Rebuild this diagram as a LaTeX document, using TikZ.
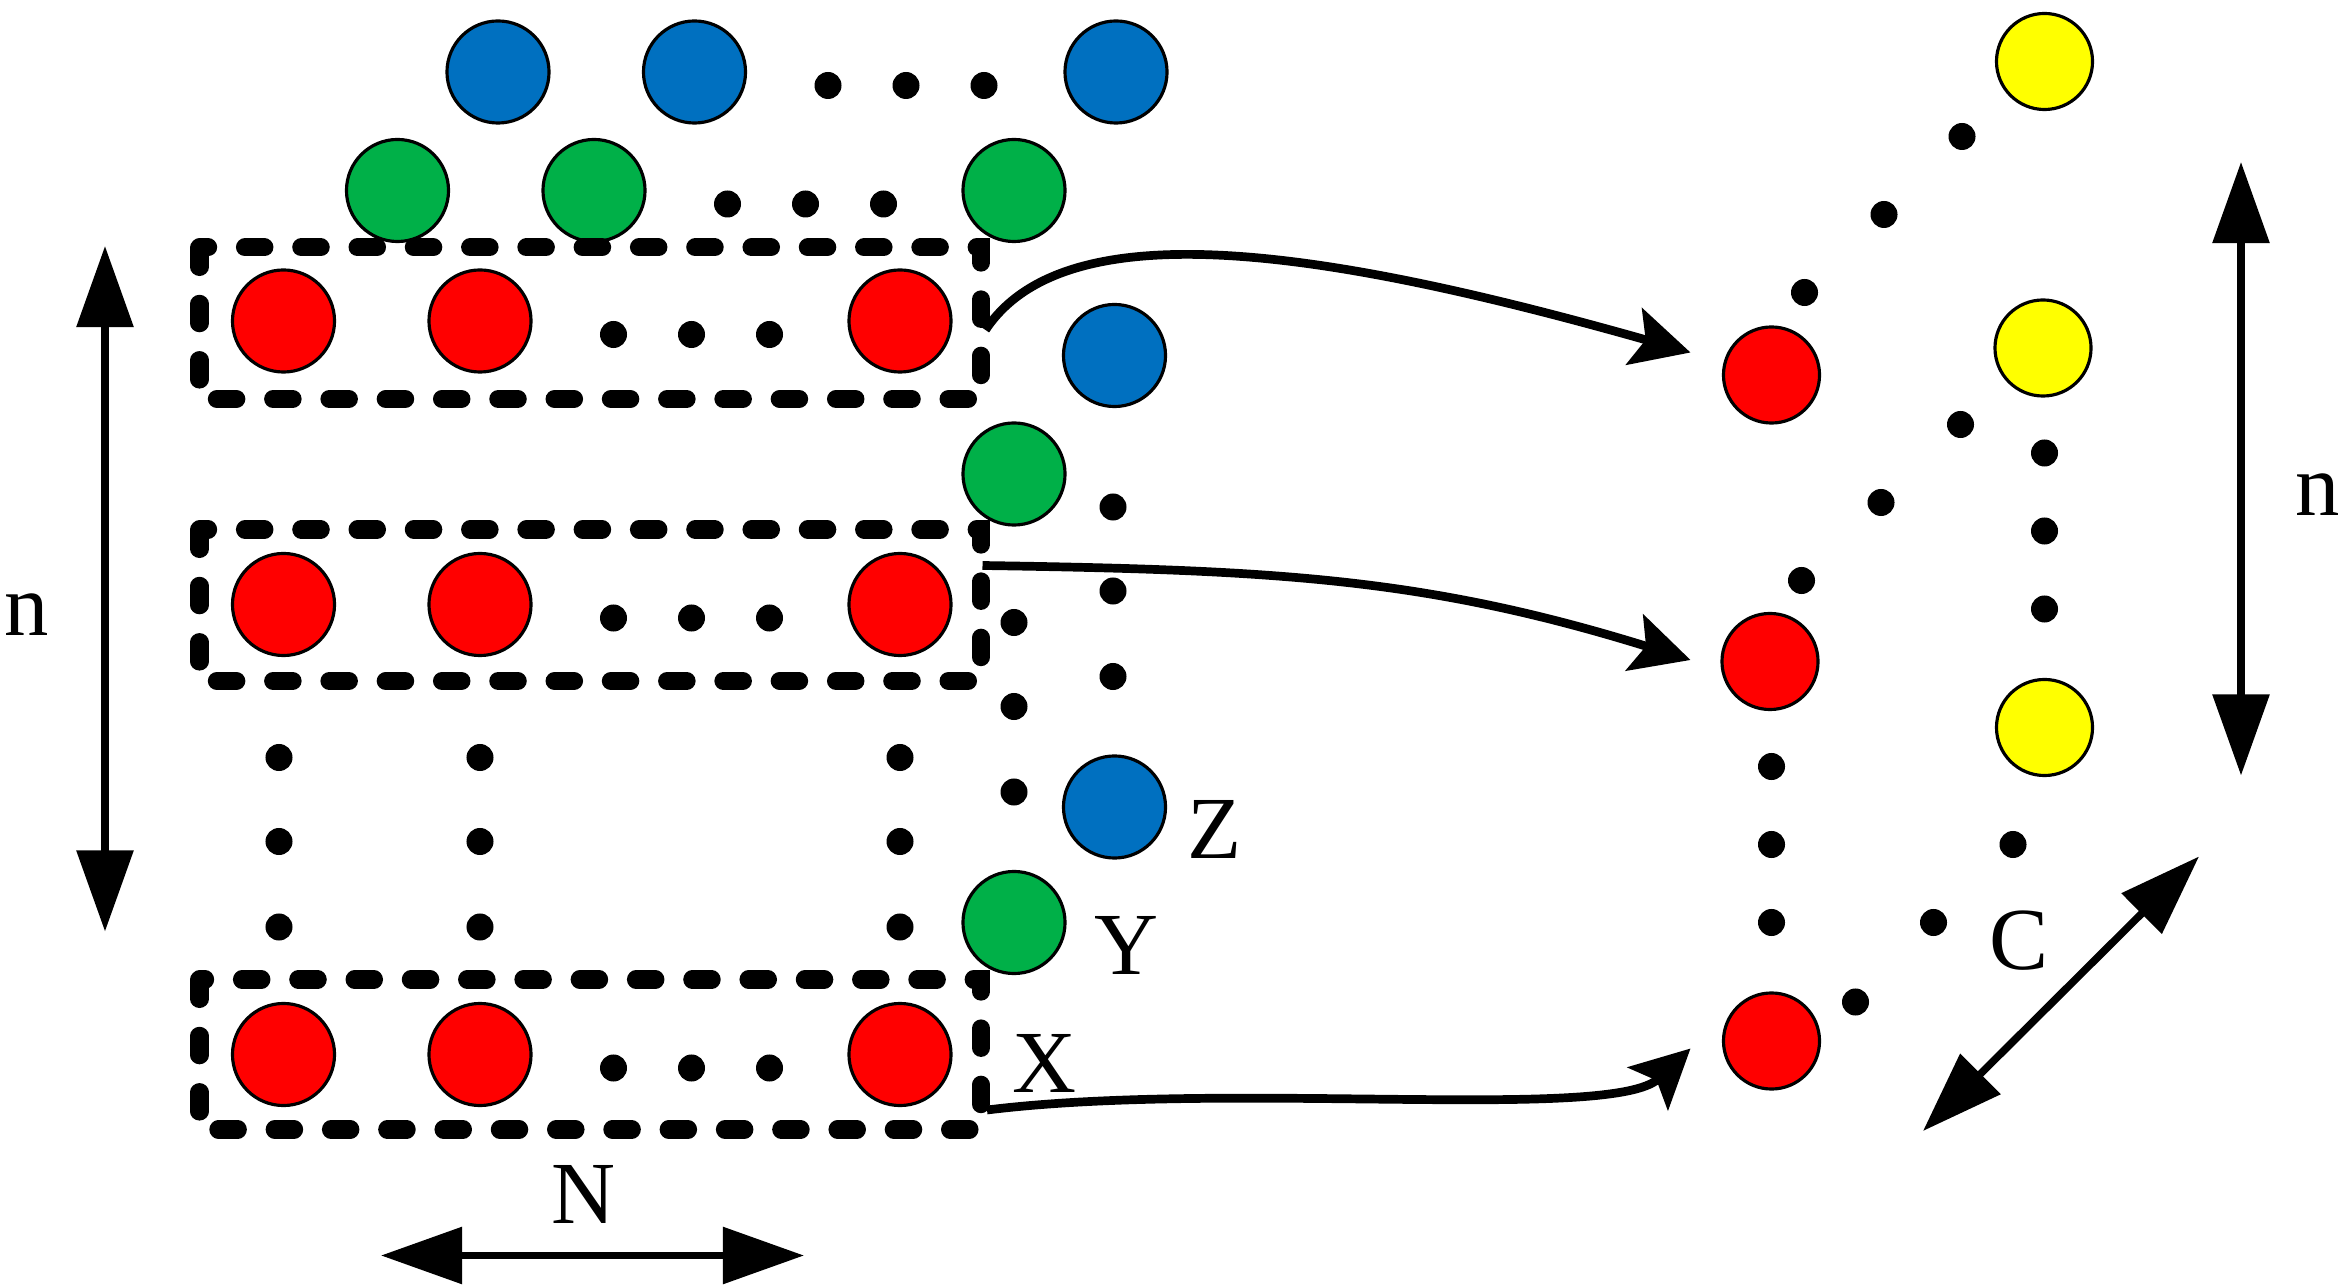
\documentclass[tikz,border=0pt]{standalone}
\usepackage{fontspec}
\setmainfont{Liberation Serif}
\usetikzlibrary{arrows.meta}
\definecolor{cred}{RGB}{255,0,0}
\definecolor{cgreen}{RGB}{0,176,72}
\definecolor{cblue}{RGB}{0,112,192}
\definecolor{cyellow}{RGB}{255,255,0}
\begin{document}
\begin{tikzpicture}[x=0.01cm,y=-0.01cm,
 ball/.style={circle,draw=black,line width=0.6pt,minimum size=0.68cm,inner sep=0pt},
 sball/.style={ball,minimum size=0.64cm},
 dotn/.style={circle,fill=black,minimum size=0.18cm,inner sep=0pt},
 groupbox/.style={line width=0.12cm,line cap=round,dash pattern=on 0.13cm off 0.245cm},
 dbl/.style={line width=0.05cm,{Triangle[length=0.54cm,width=0.37cm]}-{Triangle[length=0.54cm,width=0.37cm]}},
 flow/.style={line width=0.058cm,-{Stealth[length=0.39cm,width=0.39cm,inset=0.08cm]}},
 lbl/.style={inner sep=0pt,font=\fontsize{16.8}{20}\selectfont}]
\useasboundingbox (0,0) rectangle (1565.33,858.67);

% top blue row
\node[ball,fill=cblue] (b1) at (332,48) {};
\node[ball,fill=cblue] (b2) at (463,48) {};
\node[ball,fill=cblue] (b3) at (744,48) {};
\foreach \x [count=\i] in {552,604,656} \node[dotn] (bd\i) at (\x,57) {};
% green row
\node[ball,fill=cgreen] (g1) at (265,127) {};
\node[ball,fill=cgreen] (g2) at (396,127) {};
\node[ball,fill=cgreen] (g3) at (676,127) {};
\foreach \x [count=\i] in {485,537,589} \node[dotn] (gd\i) at (\x,136) {};

% red rows
\foreach \y/\r in {214/1,403/2,703/3}{
  \node[ball,fill=cred] (r\r a) at (189,\y) {};
  \node[ball,fill=cred] (r\r b) at (320,\y) {};
  \node[ball,fill=cred] (r\r c) at (600,\y) {};
  \foreach \x [count=\i] in {409,461,513} \node[dotn] (rd\r\i) at (\x,\y+9) {};
}
% boxes
\draw[groupbox] (133,165) rectangle (654,266);
\draw[groupbox] (133,353) rectangle (654,454);
\draw[groupbox] (133,653) rectangle (654,753);
% vertical dots between rows
\foreach \x [count=\j] in {186,320,600}
  \foreach \y [count=\i] in {505,561,618} \node[dotn] (vd\j\i) at (\x,\y) {};

% side column
\node[ball,fill=cblue] (bs1) at (743,237) {};
\node[ball,fill=cgreen] (gs1) at (676,316) {};
\node[ball,fill=cblue] (bs2) at (743,538) {};
\node[ball,fill=cgreen] (gs2) at (676,615) {};
\foreach \y [count=\i] in {415,471,528} \node[dotn] (cg\i) at (676,\y) {};
\foreach \y [count=\i] in {338,394,451} \node[dotn] (cb\i) at (742,\y) {};
\node[lbl] (lz) at (810,553) {Z};
\node[lbl] (ly) at (751,630) {Y};
\node[lbl] (lx) at (696,709) {X};

% left n arrow
\coordinate (na1) at (70,164);
\coordinate (na2) at (70,621);
\draw[dbl] (na1) -- (na2);
\node[lbl] (ln) at (18,410) {n};
% N arrow
\coordinate (Na1) at (254,837);
\coordinate (Na2) at (536,837);
\draw[dbl] (Na1) -- (Na2);
\node[lbl] (lN) at (389,796) {N};

% right part
\node[sball,fill=cred] (R1) at (1181,250) {};
\node[sball,fill=cred] (R2) at (1180,441) {};
\node[sball,fill=cred] (R3) at (1181,694) {};
\node[sball,fill=cyellow] (Y1) at (1363,41) {};
\node[sball,fill=cyellow] (Y2) at (1362,232) {};
\node[sball,fill=cyellow] (Y3) at (1363,485) {};
\foreach \x/\y [count=\i] in {1203/195,1256/143,1308/91,
                              1201/387,1254/335,1307/283,
                              1363/302,1363/354,1363/406,
                              1181/511,1181/563,1181/615,
                              1237/668,1289/615,1342/563}
  \node[dotn] (rdot\i) at (\x,\y) {};
\node[lbl] (lC) at (1346,627) {C};
\coordinate (ra1) at (1494,108);
\coordinate (ra2) at (1494,517);
\draw[dbl] (ra1) -- (ra2);
\node[lbl] (lnr) at (1545,330) {n};
\coordinate (da1) at (1282,754);
\coordinate (da2) at (1466,571);
\draw[dbl] (da1) -- (da2);

% flow arrows
\coordinate (s1) at (657,220);
\coordinate (t1) at (1127,235);
\coordinate (s2) at (655,377);
\coordinate (t2) at (1127,440);
\coordinate (s3) at (658,740);
\coordinate (t3) at (1127,699);
\draw[flow] (s1) .. controls (710,140) and (880,165) .. (t1);
\draw[flow] (s2) .. controls (850,380) and (950,385) .. (t2);
\draw[flow] (s3) .. controls (820,720) and (1075,748) .. (t3);
\end{tikzpicture}
\end{document}
